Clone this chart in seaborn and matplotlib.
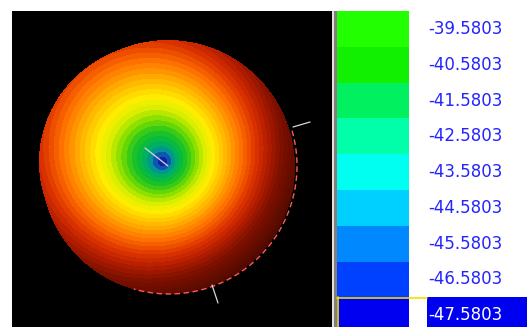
import numpy as np
import pandas as pd
import matplotlib
matplotlib.use("Agg")
import matplotlib.pyplot as plt
import seaborn as sns
from matplotlib.colors import LinearSegmentedColormap, ListedColormap
from matplotlib.patches import Rectangle, Arc
from matplotlib.lines import Line2D

# ---------------- data ----------------
legend_values = [-39.5803, -40.5803, -41.5803, -42.5803, -43.5803,
                 -44.5803, -45.5803, -46.5803, -47.5803]
legend_colors = ["#22ff00", "#11f000", "#00f060", "#00ffa8", "#00fff0",
                 "#00d0ff", "#0088ff", "#0040ff", "#0000f0"]

# radial colour profile of the disc (value -> colour)
ring_values = [0, 6, 12, 18, 26, 36, 46, 56, 66, 76, 86, 96, 106, 118, 132, 160]
ring_colors = ["#0a1490", "#1050b8", "#00a088", "#00b848", "#20c420", "#78dc00",
               "#d8ee00", "#ffee00", "#ffc800", "#ffa000", "#ff7800", "#f05000",
               "#d83000", "#b01c00", "#801000", "#4a0800"]
band = 4.5

# geometry of the rendered disc (pixel units)
ring_center = (163, 162)
ring_radii = (124, 120)
rim_center = (168, 167)
rim_radius = 127
skew = 0.18
skew_dir = np.deg2rad(45)

# overlay marks (pixel units)
white_segments = [((145, 148), (168, 166)),
                  ((293, 127), (310, 122)),
                  ((212, 285), (218, 303))]
arc_center = (169, 166)
arc_radius = 128
arc_span = (-16, 106)

# ---------------- figure ----------------
W, H = 527, 327
sns.set_theme(style="white")
plt.rcParams['font.family'] = ['DejaVu Sans']
fig = plt.figure(figsize=(W / 100, H / 100), dpi=100, facecolor="white")

PX0, PY0 = 12, 11
ax = fig.add_axes([PX0 / W, 0, 320 / W, (H - PY0) / H])
ax.set_facecolor("black")

nrows, ncols = H - PY0, 320
jj, ii = np.meshgrid(np.arange(ncols) + 0.5, np.arange(nrows) + 0.5)
px = jj + PX0
py = ii + PY0
dx = px - ring_center[0]
dy = py - ring_center[1]
d = np.hypot(dx, dy)
phi = np.arctan2(dy, dx)
v = d * (1 + skew * np.cos(phi - skew_dir))
vq = np.floor(v / band) * band + band / 2
inside = (np.hypot(px - rim_center[0], py - rim_center[1]) <= rim_radius) | \
         ((dx / ring_radii[0]) ** 2 + (dy / ring_radii[1]) ** 2 <= 1)

vmax = ring_values[-1]
ring_cmap = LinearSegmentedColormap.from_list(
    "rings", [(rv / vmax, c) for rv, c in zip(ring_values, ring_colors)])

df = pd.DataFrame(np.where(inside, vq, np.nan))
sns.heatmap(df, ax=ax, cmap=ring_cmap, vmin=0, vmax=vmax, cbar=False,
            xticklabels=False, yticklabels=False, mask=~inside)
ax.set_xlim(0, ncols)
ax.set_ylim(nrows, 0)
for s in ax.spines.values():
    s.set_visible(False)
ax.set_xticks([]); ax.set_yticks([])

for (x1, y1), (x2, y2) in white_segments:
    ax.plot([x1 - PX0, x2 - PX0], [y1 - PY0, y2 - PY0], color="#d8d8d8", lw=0.9)
ax.add_patch(Arc((arc_center[0] - PX0, arc_center[1] - PY0), 2 * arc_radius, 2 * arc_radius,
                 theta1=arc_span[0], theta2=arc_span[1], color="#ff5a5a", lw=1.0,
                 linestyle=(0, (4, 2.5))))

# separator
fig.patches.append(Rectangle((332 / W, 0), 2 / W, (H - PY0) / H, transform=fig.transFigure,
                             facecolor="#e8e2d4", edgecolor="none", zorder=-1))
fig.patches.append(Rectangle((334 / W, 0), 3 / W, (H - PY0) / H, transform=fig.transFigure,
                             facecolor="#808080", edgecolor="none", zorder=-1))

# legend
row_px = 35.8
lax = fig.add_axes([337 / W, 0, 72 / W, (H - PY0) / H])
ldf = pd.DataFrame({"v": legend_values})
sns.heatmap(ldf, ax=lax, cmap=ListedColormap(legend_colors[::-1]),
            vmin=legend_values[-1] - 0.5, vmax=legend_values[0] + 0.5, cbar=False,
            xticklabels=False, yticklabels=False)
lax.set_ylim((H - PY0) / row_px, 0)
lax.set_xlim(0, 1)
for s in lax.spines.values():
    s.set_visible(False)
lax.set_xticks([]); lax.set_yticks([])

# highlighted last entry
last_top = PY0 + (len(legend_values) - 1) * row_px
fig.patches.append(Rectangle((427 / W, 0), 100 / W, (H - last_top) / H, transform=fig.transFigure,
                             facecolor="#0000f0", edgecolor="none", zorder=-1))
fig.lines.append(Line2D([337 / W, 427 / W], [1 - (last_top + 0.5) / H] * 2,
                        transform=fig.transFigure, color="#f0e000", lw=1.2))
fig.lines.append(Line2D([337.6 / W, 337.6 / W], [0, 1 - last_top / H],
                        transform=fig.transFigure, color="#f0e000", lw=1.2))

for i, val in enumerate(legend_values):
    last = i == len(legend_values) - 1
    lax.text((428 - 337) / 72, i + 0.5, f"{val:.4f}", ha="left", va="center",
             fontsize=12, color="white" if last else "#2424ff",
             family="DejaVu Sans", clip_on=False)

fig.savefig("out.png", dpi=100, facecolor="white")
